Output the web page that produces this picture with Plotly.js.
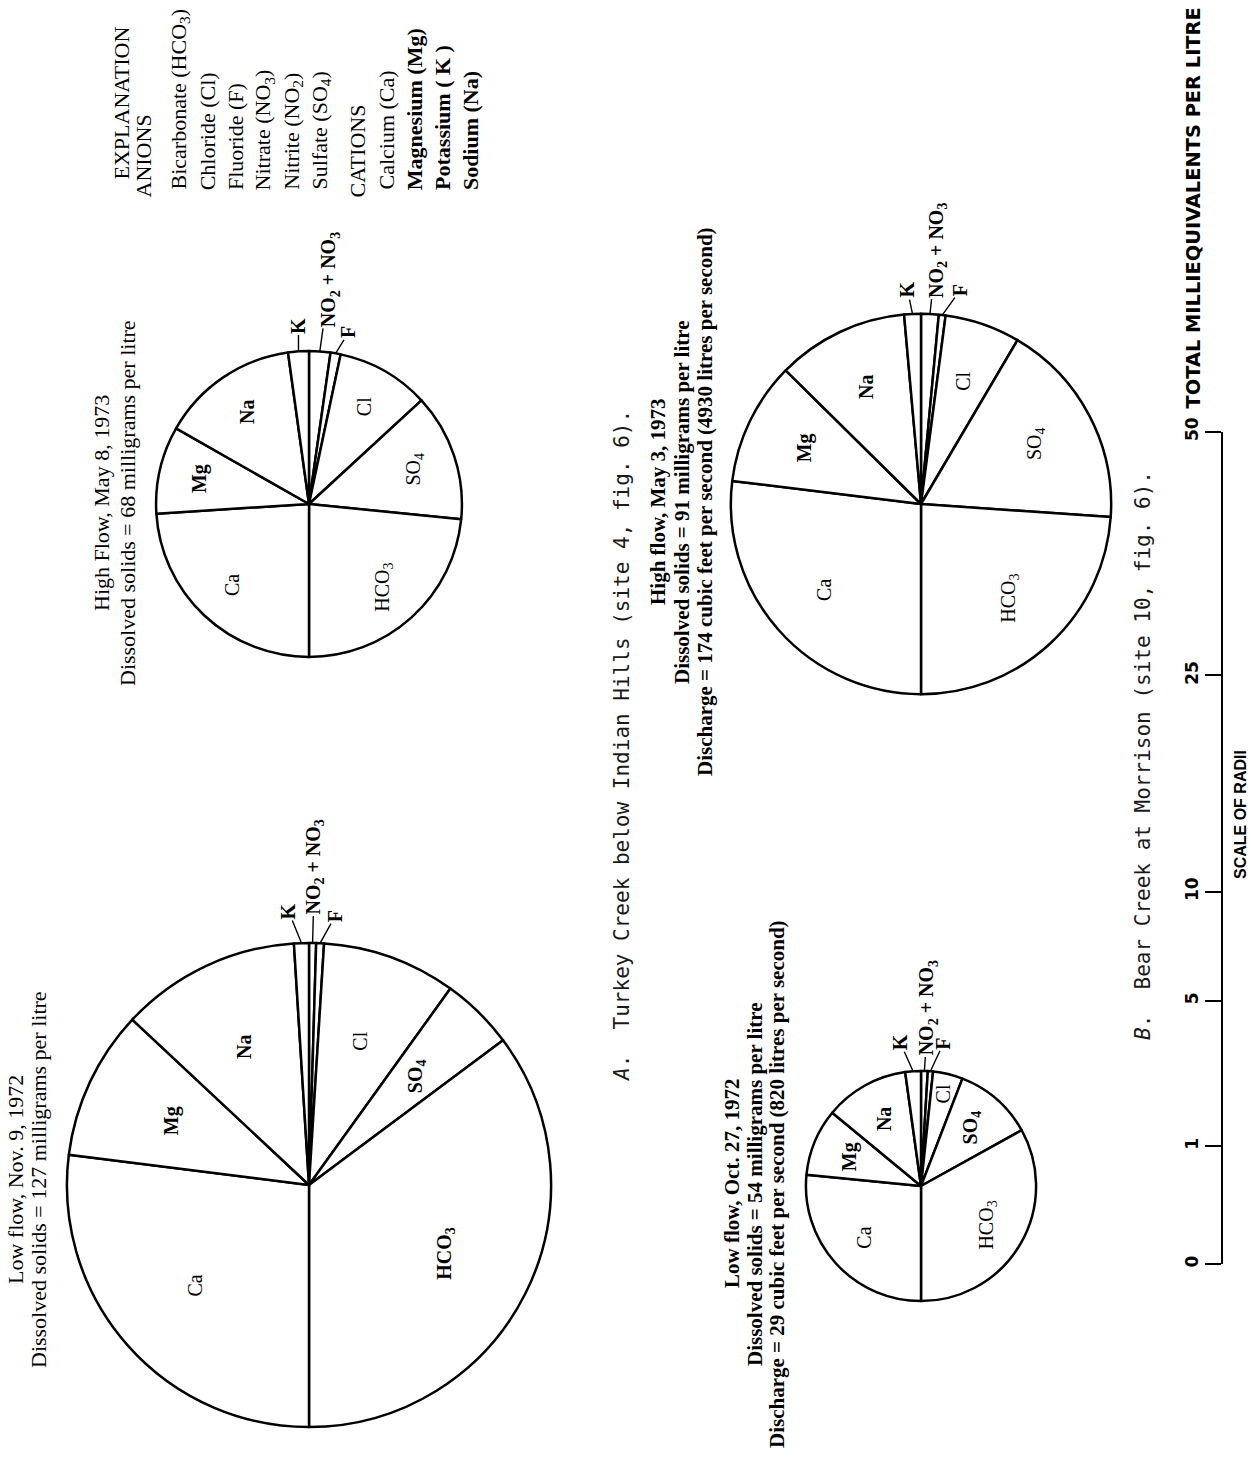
<!DOCTYPE html>
<html>
<head>
<meta charset="utf-8">
<script src="https://cdn.plot.ly/plotly-3.0.1.min.js"></script>
<style>
  html, body { margin: 0; padding: 0; background: #fff; }
  #chart { width: 1251px; height: 1462px; }
</style>
</head>
<body>
<div id="chart"></div>
<script>
// Ions in drawing order, clockwise from 12 o'clock: anions fill the right half, cations the left half
const ions = ['NO2 + NO3', 'F', 'Cl', 'SO4', 'HCO3', 'Ca', 'Mg', 'Na', 'K'];
const ionText = ['NO<sub>2</sub> + NO<sub>3</sub>', 'F', 'Cl', 'SO<sub>4</sub>', 'HCO<sub>3</sub>', 'Ca', 'Mg', 'Na', 'K'];
const leaderIons = ['K', 'NO2 + NO3', 'F'];

// Milliequivalents per litre for each sample
const turkeyLowNov1972  = [0.020, 0.022, 0.378, 0.206, 1.489, 1.142, 0.422, 0.509, 0.042];
const turkeyHighMay1973 = [0.038, 0.018, 0.166, 0.227, 0.395, 0.405, 0.156, 0.246, 0.037];
const bearHighMay1973   = [0.039, 0.015, 0.167, 0.460, 0.624, 0.703, 0.273, 0.292, 0.037];
const bearLowOct1972    = [0.009, 0.007, 0.040, 0.106, 0.316, 0.254, 0.090, 0.113, 0.021];

const turkeyLowTitle  = ['Low flow, Nov. 9, 1972', 'Dissolved solids = 127 milligrams per litre'];
const turkeyHighTitle = ['High Flow, May 8, 1973', 'Dissolved solids = 68 milligrams per litre'];
const bearHighTitle   = ['High flow, May 3, 1973', 'Dissolved solids = 91 milligrams per litre',
                         'Discharge = 174 cubic feet per second (4930 litres per second)'];
const bearLowTitle    = ['Low flow, Oct. 27, 1972', 'Dissolved solids = 54 milligrams per litre',
                         'Discharge = 29 cubic feet per second (820 litres per second)'];

const captionA = '<i>A</i>.  Turkey Creek below Indian Hills (site 4, fig. 6).';
const captionB = '<i>B</i>.  Bear Creek at Morrison (site 10, fig. 6).';

// Scale of radii (total milliequivalents per litre)
const scaleValues = [0, 1, 5, 10, 25, 50];
const scaleLabels = ['0', '1', '5', '10', '25', '50'];
const scaleTitle = 'TOTAL MILLIEQUIVALENTS PER LITRE';
const scaleName = 'SCALE OF RADII';

// Explanation block
const explanationHead = 'EXPLANATION';
const anionHead = 'ANIONS';
const anionNames = ['Bicarbonate (HCO<sub>3</sub>)', 'Chloride (Cl)', 'Fluoride (F)',
                    'Nitrate (NO<sub>3</sub>)', 'Nitrite (NO<sub>2</sub>)', 'Sulfate (SO<sub>4</sub>)'];
const cationHead = 'CATIONS';
const cationNames = ['Calcium (Ca)', 'Magnesium (Mg)', 'Potassium ( K )', 'Sodium (Na)'];
const boldCations = ['Magnesium (Mg)', 'Potassium ( K )', 'Sodium (Na)'];

// ---- page geometry ----
const W = 1251, H = 1462;
const PX_PER_ROOT = 117.7;          // pixels per sqrt(meq/L) on the scale of radii
const SCALE_X = 1222, SCALE_BASE = 1264;

const SERIF = '"Liberation Serif", "Times New Roman", serif';
const SANS = '"Liberation Sans", Arial, sans-serif';
const WIDE_SANS = '"DejaVu Sans", Verdana, sans-serif';
const MONO = '"DejaVu Sans Mono", monospace';

const px = x => x / W;
const py = y => 1 - y / H;
const sum = a => a.reduce((s, v) => s + v, 0);

const pies = [
  { values: turkeyLowNov1972, cx: 309, cy: 1185, title: turkeyLowTitle, titleX: [15, 38], titleY: 1180,
    titleBold: false, labelFrac: 0.63, fracOverride: {}, bold: ['Na', 'Mg', 'SO4', 'HCO3'],
    leaders: { 'K': [-13, -32], 'NO2 + NO3': [2, -76], 'F': [15, -27] } },
  { values: turkeyHighMay1973, cx: 309, cy: 504, title: turkeyHighTitle, titleX: [102, 128], titleY: 503,
    titleBold: false, labelFrac: 0.73, fracOverride: {}, bold: ['Na', 'Mg'],
    leaders: { 'K': [0, -26], 'NO2 + NO3': [10, -72], 'F': [13, -21] } },
  { values: bearHighMay1973, cx: 921, cy: 504, title: bearHighTitle, titleX: [658, 682, 705], titleY: 502,
    titleBold: true, labelFrac: 0.68, fracOverride: {}, bold: ['Na', 'Mg'],
    leaders: { 'K': [-5, -24], 'NO2 + NO3': [7, -64], 'F': [18, -25] } },
  { values: bearLowOct1972, cx: 921, cy: 1186, title: bearLowTitle, titleX: [732, 755, 777], titleY: 1184,
    titleBold: true, labelFrac: 0.67, fracOverride: { 'Cl': 0.82 }, bold: ['Na', 'Mg', 'SO4'],
    leaders: { 'K': [-13, -29], 'NO2 + NO3': [4, -63], 'F': [13, -28] } }
];

const traces = [];
const annotations = [];

pies.forEach(p => {
  const total = sum(p.values);
  const r = PX_PER_ROOT * Math.sqrt(total);
  traces.push({
    type: 'pie',
    labels: ions,
    values: p.values,
    sort: false,
    direction: 'clockwise',
    rotation: 0,
    textinfo: 'none',
    textposition: 'none',
    hoverinfo: 'none',
    showlegend: false,
    marker: { colors: ions.map(() => '#ffffff'), line: { color: '#000', width: 2.5 } },
    domain: { x: [px(p.cx - r), px(p.cx + r)], y: [py(p.cy + r), py(p.cy - r)] }
  });

  // slice labels, placed along each slice's mid-angle
  let cum = 0;
  p.values.forEach((v, i) => {
    const a0 = cum / total * 2 * Math.PI;
    cum += v;
    const a1 = cum / total * 2 * Math.PI;
    const mid = (a0 + a1) / 2;
    const name = ions[i];
    const weight = p.bold.includes(name) ? 'bold' : 'normal';
    if (leaderIons.includes(name)) {
      const off = p.leaders[name];
      annotations.push({
        xref: 'paper', yref: 'paper',
        x: px(p.cx + r * Math.sin(mid)), y: py(p.cy - r * Math.cos(mid)),
        ax: off[0], ay: off[1],
        text: ionText[i], textangle: -90,
        showarrow: true, arrowhead: 0, arrowwidth: 1.4, arrowcolor: '#000', standoff: 0,
        font: { family: SERIF, size: 20, color: '#000', weight: 'bold' }
      });
    } else {
      const f = (p.fracOverride[name] !== undefined) ? p.fracOverride[name] : p.labelFrac;
      annotations.push({
        xref: 'paper', yref: 'paper',
        x: px(p.cx + f * r * Math.sin(mid)), y: py(p.cy - f * r * Math.cos(mid)),
        xanchor: 'center', yanchor: 'middle',
        text: ionText[i], textangle: -90, showarrow: false,
        font: { family: SERIF, size: 20, color: '#000', weight: weight }
      });
    }
  });

  // sample heading
  p.title.forEach((line, j) => {
    annotations.push({
      xref: 'paper', yref: 'paper', x: px(p.titleX[j]), y: py(p.titleY),
      xanchor: 'center', yanchor: 'middle', textangle: -90, showarrow: false,
      text: line,
      font: { family: SERIF, size: p.titleBold ? 21 : 22, color: '#000', weight: p.titleBold ? 'bold' : 'normal' }
    });
  });
});

// explanation block, reading upward
const explain = [];
explain.push({ t: explanationHead, x: 121, y: 182, w: 'normal' });
explain.push({ t: anionHead, x: 143, y: 200, w: 'normal' });
anionNames.forEach((t, i) => explain.push({ t: t, x: 179 + i * 28.3, y: 192, w: 'normal' }));
explain.push({ t: cationHead, x: 357, y: 200, w: 'normal' });
cationNames.forEach((t, i) => explain.push({ t: t, x: 386 + i * 28.2, y: 192,
  w: boldCations.includes(t) ? 'bold' : 'normal' }));
explain.forEach(e => annotations.push({
  xref: 'paper', yref: 'paper', x: px(e.x), y: py(e.y),
  xanchor: 'center', yanchor: 'bottom', textangle: -90, showarrow: false,
  text: e.t, font: { family: SERIF, size: 22, color: '#000', weight: e.w }
}));

// figure captions
annotations.push({
  xref: 'paper', yref: 'paper', x: px(622), y: py(746), xanchor: 'center', yanchor: 'middle',
  textangle: -90, showarrow: false, text: captionA,
  font: { family: MONO, size: 21, color: '#1a1a1a' }
});
annotations.push({
  xref: 'paper', yref: 'paper', x: px(1143), y: py(756), xanchor: 'center', yanchor: 'middle',
  textangle: -90, showarrow: false, text: captionB,
  font: { family: MONO, size: 21, color: '#1a1a1a' }
});

// scale captions
annotations.push({
  xref: 'paper', yref: 'paper', x: px(1193), y: py(411), xanchor: 'center', yanchor: 'bottom',
  textangle: -90, showarrow: false, text: scaleTitle,
  font: { family: WIDE_SANS, size: 19.4, color: '#000', weight: 'bold' }
});
annotations.push({
  xref: 'paper', yref: 'paper', x: px(1240), y: py(815), xanchor: 'center', yanchor: 'middle',
  textangle: -90, showarrow: false, text: scaleName,
  font: { family: SANS, size: 16, color: '#000', weight: 'bold' }
});

// scale of radii: axis length grows with the square root of the total
const scaleTop = SCALE_BASE - PX_PER_ROOT * Math.sqrt(Math.max(...scaleValues));
traces.push({
  type: 'scatter', mode: 'none', hoverinfo: 'skip', showlegend: false,
  x: scaleValues.map(() => 0.5), y: scaleValues.map(v => Math.sqrt(v)),
  xaxis: 'x', yaxis: 'y'
});

const layout = {
  width: W, height: H,
  margin: { l: 0, r: 0, t: 0, b: 0 },
  paper_bgcolor: '#ffffff', plot_bgcolor: 'rgba(0,0,0,0)',
  showlegend: false,
  xaxis: { domain: [0.975, 0.985], range: [0, 1], visible: false, fixedrange: true },
  yaxis: {
    domain: [py(SCALE_BASE), py(scaleTop)],
    range: [0, Math.sqrt(Math.max(...scaleValues))],
    anchor: 'free', position: px(SCALE_X), side: 'left',
    showline: true, linecolor: '#000', linewidth: 2,
    ticks: 'outside', ticklen: 16, tickwidth: 2, tickcolor: '#000',
    tickvals: scaleValues.map(v => Math.sqrt(v)), ticktext: scaleLabels,
    tickangle: -90, tickfont: { family: WIDE_SANS, size: 17, color: '#000', weight: 'bold' },
    showgrid: false, zeroline: false, fixedrange: true
  },
  annotations: annotations
};

Plotly.newPlot('chart', traces, layout, { displayModeBar: false, staticPlot: true });
</script>
</body>
</html>
